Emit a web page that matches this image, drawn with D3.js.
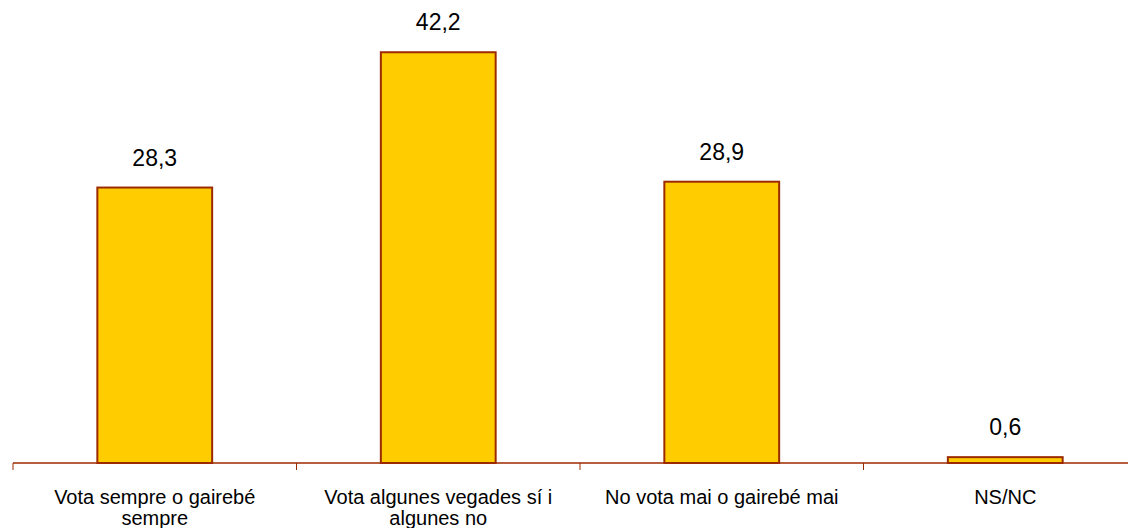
<!DOCTYPE html>
<html>
<head>
<meta charset="utf-8">
<script src="https://cdn.jsdelivr.net/npm/d3@7"></script>
<style>
  html, body { margin: 0; padding: 0; background: #ffffff; }
  svg { display: block; }
  text { font-family: "Liberation Sans", Arial, sans-serif; fill: #000; }
</style>
</head>
<body>
<script>
const categories = ["Vota sempre o gairebé sempre", "Vota algunes vegades sí i algunes no", "No vota mai o gairebé mai", "NS/NC"];
const categoryLines = [["Vota sempre o gairebé", "sempre"], ["Vota algunes vegades sí i", "algunes no"], ["No vota mai o gairebé mai"], ["NS/NC"]];
const values = [28.3, 42.2, 28.9, 0.6];
const valueLabels = ["28,3", "42,2", "28,9", "0,6"];

const W = 1128, H = 528;
const axisY = 463;
const svg = d3.select("body").append("svg").attr("width", W).attr("height", H);

const x = d3.scaleBand().domain(categories).range([13, 1147]).paddingInner(0.595).paddingOuter(0.2975);
const y = d3.scaleLinear().domain([0, 45]).range([axisY, 25]);
const step = x.step();
const offset = step * x.paddingInner() / 2;

const stroke = "#9C2A00";

// bars
svg.selectAll("rect.bar").data(values).join("rect")
  .attr("class", "bar")
  .attr("x", (d, i) => x(categories[i]))
  .attr("y", d => y(d))
  .attr("width", x.bandwidth())
  .attr("height", d => axisY - y(d))
  .attr("fill", "#FFCC00")
  .attr("stroke", stroke)
  .attr("stroke-width", 2);

// axis line
svg.append("line")
  .attr("x1", 13).attr("x2", W)
  .attr("y1", axisY).attr("y2", axisY)
  .attr("stroke", stroke).attr("stroke-width", 1.5);

// ticks at band boundaries
const boundaries = categories.map(c => x(c) - offset).concat([x(categories[categories.length - 1]) + x.bandwidth() + offset]);
svg.selectAll("line.tick").data(boundaries).join("line")
  .attr("class", "tick")
  .attr("x1", d => d).attr("x2", d => d)
  .attr("y1", axisY).attr("y2", axisY + 7)
  .attr("stroke", stroke).attr("stroke-width", 1);

// value labels
svg.selectAll("text.val").data(values).join("text")
  .attr("class", "val")
  .attr("x", (d, i) => x(categories[i]) + x.bandwidth() / 2)
  .attr("y", d => y(d) - 22)
  .attr("text-anchor", "middle")
  .attr("font-size", 23)
  .text((d, i) => valueLabels[i]);

// category labels
const cat = svg.selectAll("text.cat").data(categories).join("text")
  .attr("class", "cat")
  .attr("text-anchor", "middle")
  .attr("font-size", 20)
  .attr("x", d => x(d) + x.bandwidth() / 2)
  .attr("y", axisY + 41);
cat.selectAll("tspan").data((d, i) => categoryLines[i].map(t => ({t, cx: x(d) + x.bandwidth() / 2}))).join("tspan")
  .attr("x", d => d.cx)
  .attr("dy", (d, j) => j === 0 ? 0 : 20.6)
  .text(d => d.t);
</script>
</body>
</html>
